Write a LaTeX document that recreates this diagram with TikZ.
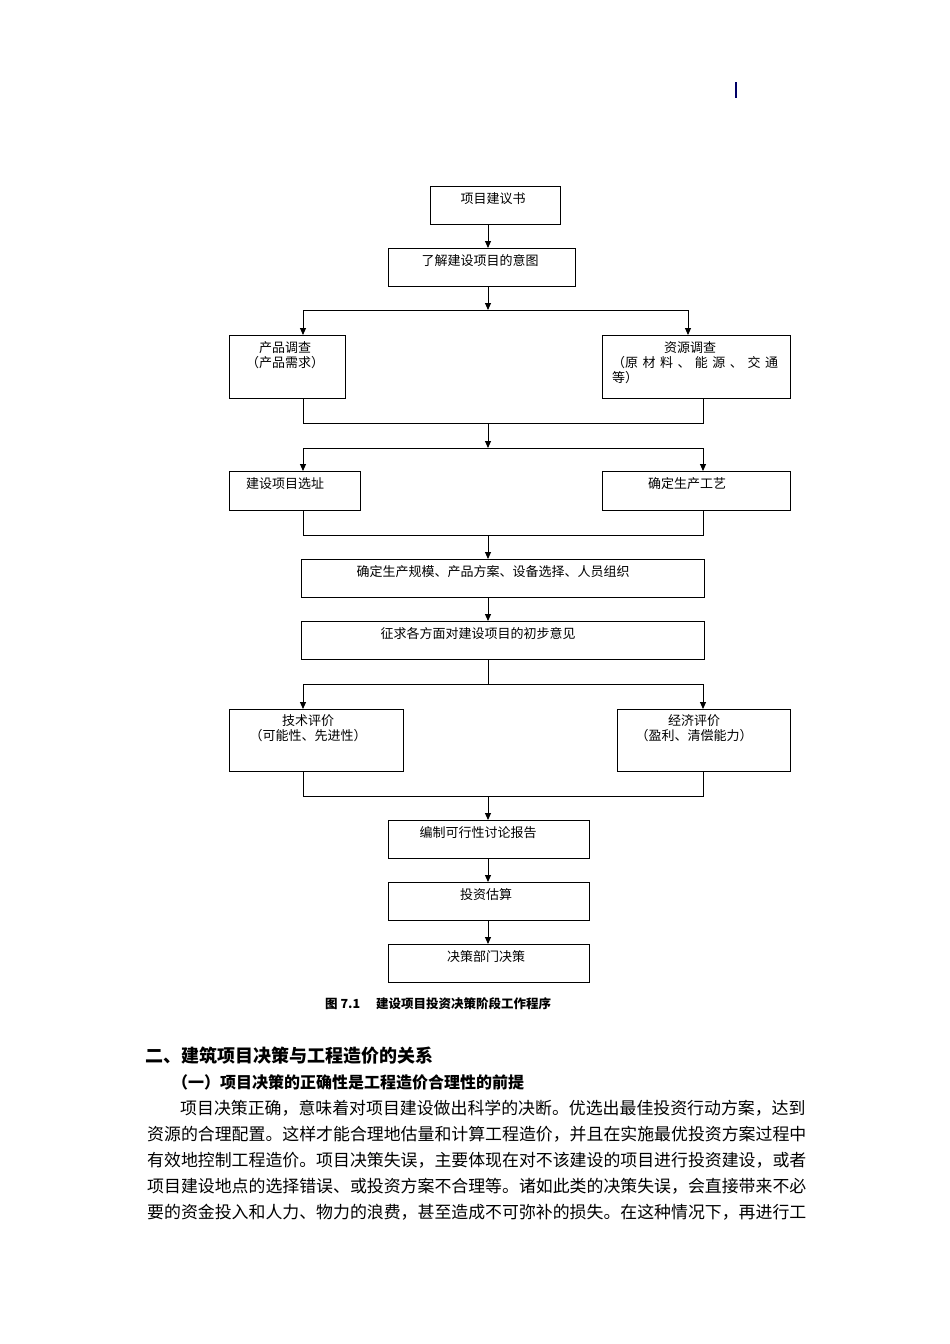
\documentclass[tikz,border=0pt]{standalone}
\usepackage{fontspec}
\setmainfont{Noto Sans CJK SC}
\usetikzlibrary{arrows.meta}
\begin{document}
\begin{tikzpicture}[x=1pt,y=-1pt,
  box/.style={draw,line width=0.9pt},
  lbl/.style={font=\fontsize{13}{15}\selectfont,anchor=north,inner sep=0pt,align=center},
  ln/.style={line width=0.9pt},
  ar/.style={ln,-{Triangle[length=7pt,width=6pt]}},
  para/.style={anchor=west,inner sep=0pt,font=\fontsize{16.9}{20}\selectfont}]
\useasboundingbox[fill=white] (0,0) rectangle (950,1344);
\draw[line width=1.5pt,blue!40!black] (736,82) -- (736,98);
% boxes
\draw[box] (430,186) rectangle (560,224); \node[lbl] (t1) at (493,192) {项目建议书};
\draw[box] (388,248) rectangle (575,286); \node[lbl] (t2) at (480,254) {了解建设项目的意图};
\draw[box] (229,335) rectangle (345,398); \node[lbl] (t3) at (285,341) {产品调查\\（产品需求）};
\draw[box] (602,335) rectangle (790,398); \node[lbl,align=left,text width=170pt] (t4) at (697,341) {\hspace*{52pt}资源调查\\\makebox[166pt][s]{（原\hfill 材\hfill 料\hfill 、\hfill 能\hfill 源\hfill 、\hfill 交\hfill 通}\\等）};
\draw[box] (229,471) rectangle (360,510); \node[lbl] (t5) at (285,477) {建设项目选址};
\draw[box] (602,471) rectangle (790,510); \node[lbl] (t6) at (687,477) {确定生产工艺};
\draw[box] (301,559) rectangle (704,597); \node[lbl] (t7) at (493,565) {确定生产规模、产品方案、设备选择、人员组织};
\draw[box] (301,621) rectangle (704,659); \node[lbl] (t8) at (478,627) {征求各方面对建设项目的初步意见};
\draw[box] (229,709) rectangle (403,771); \node[lbl] (t9) at (308,714) {技术评价\\（可能性、先进性）};
\draw[box] (617,709) rectangle (790,771); \node[lbl] (t10) at (694,714) {经济评价\\（盈利、清偿能力）};
\draw[box] (388,820) rectangle (589,858); \node[lbl] (t11) at (478,826) {编制可行性讨论报告};
\draw[box] (388,882) rectangle (589,920); \node[lbl] (t12) at (486,888) {投资估算};
\draw[box] (388,944) rectangle (589,982); \node[lbl] (t13) at (486,950) {决策部门决策};
% connectors
\draw[ar] (488,224) -- (488,248);
\draw[ar] (488,286) -- (488,310);
\draw[ln] (303,310) -- (688,310);
\draw[ar] (303,310) -- (303,335); \draw[ar] (688,310) -- (688,335);
\draw[ln] (303,398) -- (303,423) -- (703,423) -- (703,398);
\draw[ar] (488,423) -- (488,448);
\draw[ln] (303,448) -- (703,448);
\draw[ar] (303,448) -- (303,471); \draw[ar] (703,448) -- (703,471);
\draw[ln] (303,510) -- (303,535) -- (703,535) -- (703,510);
\draw[ar] (488,535) -- (488,559);
\draw[ar] (488,597) -- (488,621);
\draw[ln] (488,659) -- (488,684);
\draw[ln] (303,684) -- (703,684);
\draw[ar] (303,684) -- (303,709); \draw[ar] (703,684) -- (703,709);
\draw[ln] (303,771) -- (303,796) -- (703,796) -- (703,771);
\draw[ar] (488,796) -- (488,820);
\draw[ar] (488,858) -- (488,882);
\draw[ar] (488,920) -- (488,944);
% caption and text
\node[anchor=west,inner sep=0pt,font=\fontsize{12.5}{14}\selectfont\bfseries] (cap) at (325,1004) {图 7.1\hspace{16pt}建设项目投资决策阶段工作程序};
\node[anchor=west,inner sep=0pt,font=\fontsize{18}{20}\selectfont\bfseries] (h1) at (145,1056) {二、建筑项目决策与工程造价的关系};
\node[anchor=west,inner sep=0pt,font=\fontsize{16}{20}\selectfont\bfseries] (h2) at (172,1082) {（一）项目决策的正确性是工程造价合理性的前提};
\node[para] (p1) at (180,1108) {项目决策正确，意味着对项目建设做出科学的决断。优选出最佳投资行动方案，达到};
\node[para] (p2) at (147,1134) {资源的合理配置。这样才能合理地估量和计算工程造价，并且在实施最优投资方案过程中};
\node[para] (p3) at (147,1160) {有效地控制工程造价。项目决策失误，主要体现在对不该建设的项目进行投资建设，或者};
\node[para] (p4) at (147,1186) {项目建设地点的选择错误、或投资方案不合理等。诸如此类的决策失误，会直接带来不必};
\node[para] (p5) at (147,1212) {要的资金投入和人力、物力的浪费，甚至造成不可弥补的损失。在这种情况下，再进行工};
\end{tikzpicture}
\end{document}
